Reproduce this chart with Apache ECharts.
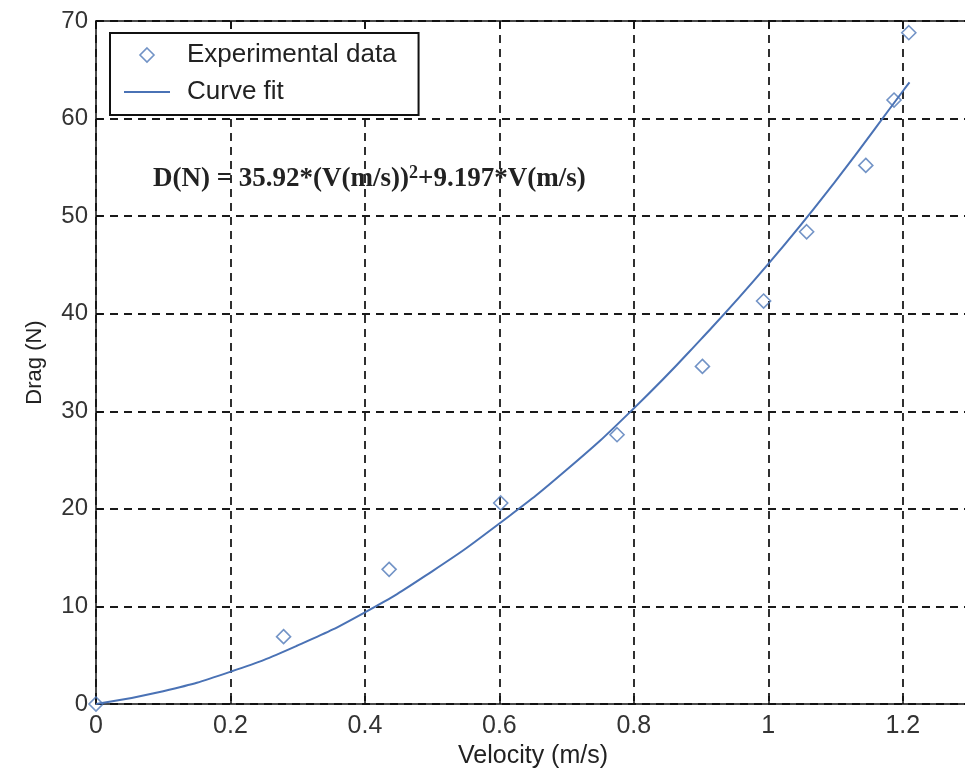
<!DOCTYPE html>
<html>
<head>
<meta charset="utf-8">
<title>Drag vs Velocity</title>
<script src="https://cdn.jsdelivr.net/npm/echarts@6/dist/echarts.min.js"></script>
<style>
  html, body { margin: 0; padding: 0; background: #fff; }
  #main { width: 965px; height: 775px; }
</style>
</head>
<body>
<div id="main"></div>
<script type="text/javascript">
// measured points (velocity m/s, drag N)
var velocity = [0, 0.279, 0.436, 0.602, 0.775, 0.902, 0.993, 1.057, 1.145, 1.187, 1.209];
var drag = [0, 6.9, 13.8, 20.6, 27.6, 34.6, 41.3, 48.4, 55.2, 61.9, 68.8];

// curve fit
var fitVelocity = [0, 0.1, 0.2, 0.3, 0.4, 0.5, 0.6, 0.7, 0.8, 0.9, 1.0, 1.1, 1.2, 1.21];
var fitDrag = [0, 1.3, 3.3, 6.0, 9.4, 13.6, 18.5, 24.0, 30.3, 37.4, 45.1, 53.6, 62.8, 63.7];

var seriesNames = ['Experimental data', 'Curve fit'];

var sans = 'Liberation Sans, Arial, sans-serif';
var serif = 'Liberation Serif, Times New Roman, serif';
var blue = '#4a72b5';

function pairs(xs, ys) {
    var d = [];
    for (var i = 0; i < xs.length; i++) d.push([xs[i], ys[i]]);
    return d;
}

var myChart = echarts.init(document.getElementById('main'));

var option = {
    animation: false,
    backgroundColor: '#fff',
    // plot box runs a little past the right edge, like the cropped original
    grid: { left: 96, top: 21, width: 874, bottom: 71, outerBoundsMode: 'none', containLabel: false },
    xAxis: [{
        type: 'value',
        min: 0, max: 1.3, interval: 0.2,
        name: 'Velocity (m/s)',
        nameLocation: 'middle',
        nameGap: 40,
        nameTextStyle: { fontFamily: sans, fontSize: 25, color: '#222' },
        axisLine: { show: true, onZero: false, lineStyle: { color: '#111', width: 1.5 } },
        axisTick: { show: true, inside: true, length: 8, lineStyle: { color: '#111', width: 1.5 } },
        axisLabel: { fontFamily: sans, fontSize: 25, color: '#333', margin: 10, showMaxLabel: false },
        splitLine: { show: true, lineStyle: { color: '#1a1a1a', width: 1.8, type: [8, 6] } }
    }, {
        type: 'value',
        position: 'top',
        min: 0, max: 1.3, interval: 0.2,
        axisLine: { show: true, onZero: false, lineStyle: { color: '#111', width: 1.5 } },
        axisTick: { show: true, inside: true, length: 8, lineStyle: { color: '#111', width: 1.5 } },
        axisLabel: { show: false },
        splitLine: { show: false }
    }],
    yAxis: {
        type: 'value',
        min: 0, max: 70, interval: 10,
        name: 'Drag (N)',
        nameLocation: 'middle',
        nameGap: 50,
        nameTextStyle: { fontFamily: sans, fontSize: 22, color: '#222' },
        axisLine: { show: true, onZero: false, lineStyle: { color: '#111', width: 1.5 } },
        axisTick: { show: true, inside: true, length: 7, lineStyle: { color: '#111', width: 1.5 } },
        axisLabel: { fontFamily: sans, fontSize: 24, color: '#333', margin: 8 },
        splitLine: { show: true, lineStyle: { color: '#1a1a1a', width: 1.8, type: [8, 6] } }
    },
    legend: {
        orient: 'vertical',
        left: 110, top: 33,
        padding: [9, 22, 10, 14],
        itemWidth: 46, itemHeight: 14, itemGap: 11,
        backgroundColor: '#fff',
        borderColor: '#111', borderWidth: 2, borderRadius: 0,
        textStyle: { fontFamily: sans, fontSize: 26, color: '#222', lineHeight: 22, padding: [0, 0, 0, 12] },
        data: [
            { name: seriesNames[0], icon: 'path://M0,-6L6,0L0,6L-6,0Z',
              itemStyle: { color: 'rgba(255,255,255,0)', borderColor: '#4f78b8', borderWidth: 1.6 } },
            { name: seriesNames[1], icon: 'path://M0,0L46,0L46,2L0,2Z',
              itemStyle: { color: blue, borderWidth: 0 } }
        ]
    },
    graphic: [{
        type: 'text',
        left: 153, top: 164, z: 100,
        style: {
            text: '{a|D(N) = 35.92*(V(m/s))}{s|2}{a|+9.197*V(m/s)}',
            rich: {
                a: { fontFamily: serif, fontWeight: 'bold', fontSize: 27, lineHeight: 30, fill: '#222' },
                s: { fontFamily: serif, fontWeight: 'bold', fontSize: 18, lineHeight: 30, verticalAlign: 'top', fill: '#222' }
            }
        }
    }],
    series: [{
        name: seriesNames[1],
        type: 'line',
        smooth: true,
        symbol: 'none',
        lineStyle: { color: blue, width: 2 },
        itemStyle: { color: blue },
        z: 3,
        data: pairs(fitVelocity, fitDrag)
    }, {
        name: seriesNames[0],
        type: 'scatter',
        symbol: 'diamond',
        symbolSize: 14,
        itemStyle: { color: 'rgba(255,255,255,0)', borderColor: '#4f78b8', borderWidth: 1.6 },
        z: 4,
        data: pairs(velocity, drag)
    }]
};

myChart.setOption(option);
</script>
</body>
</html>
